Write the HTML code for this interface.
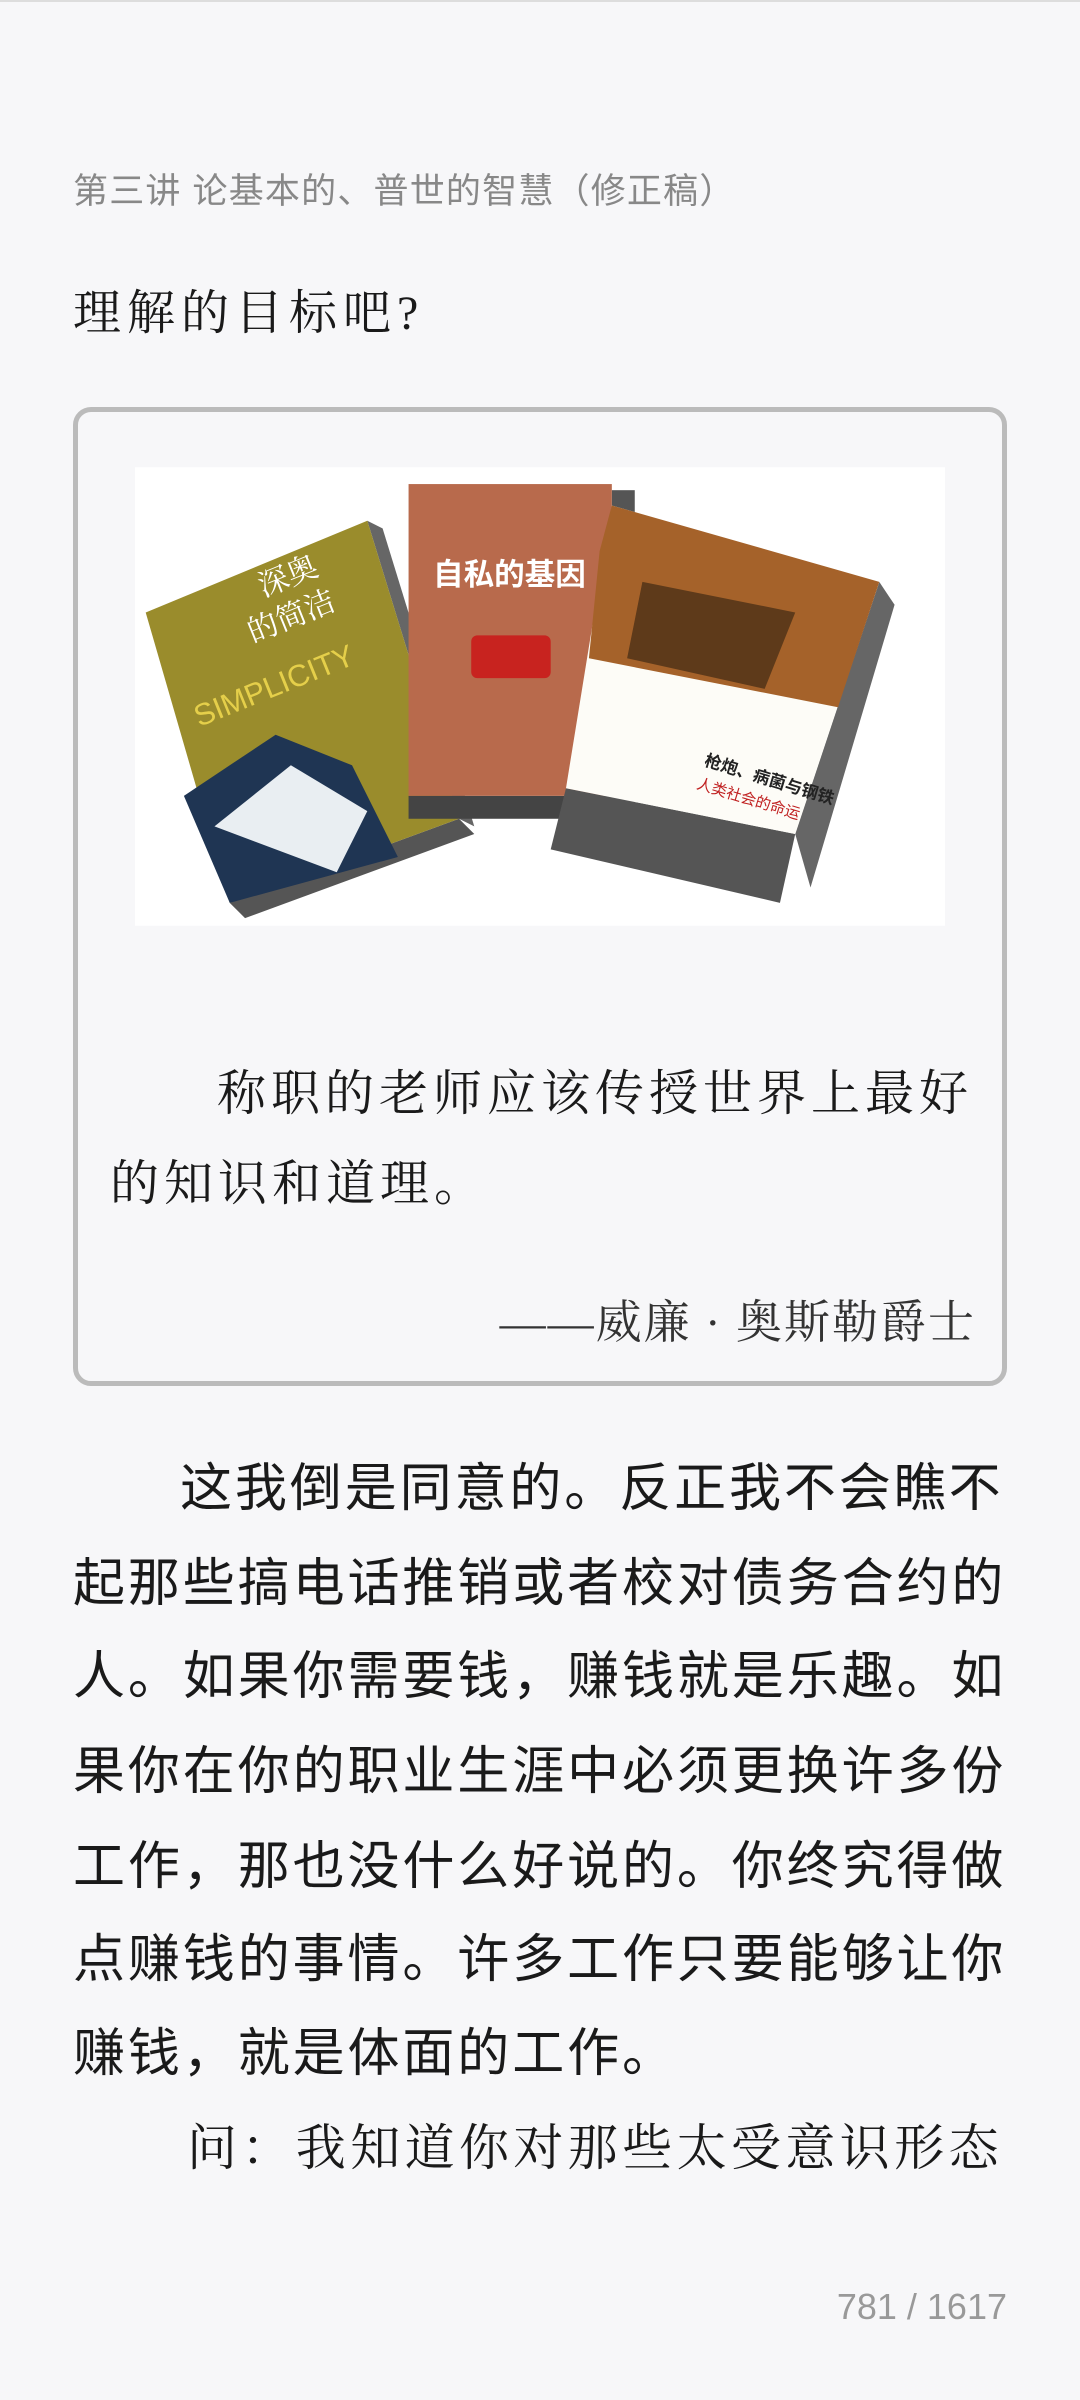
<!DOCTYPE html>
<html><head><meta charset="utf-8">
<style>
html,body{margin:0;padding:0;}
body{width:1080px;height:2400px;background:#f7f7f9;position:relative;overflow:hidden;font-family:"Liberation Sans","Noto Sans CJK SC",sans-serif;}
.abs{position:absolute;white-space:nowrap;}
.serif{font-family:"Liberation Serif","Noto Serif CJK SC",serif;}
.body-line{position:absolute;left:73px;font-size:52px;letter-spacing:2.9px;color:#1a1a1a;line-height:60px;white-space:nowrap;}
</style></head>
<body>
<div class="abs" style="left:0;top:0;width:1080px;height:2px;background:#ddd"></div>
<div class="abs" style="left:73px;top:163px;font-size:35px;letter-spacing:1.2px;color:#888">第三讲 论基本的、普世的智慧（修正稿）</div>
<div class="abs serif" style="left:73px;top:274px;font-size:48px;color:#1a1a1a;letter-spacing:6px">理解的目标吧?</div>

<div class="abs" style="left:73px;top:407px;width:924px;height:969px;border:5px solid #bbb;border-radius:18px;background:#f7f7f9"></div>

<svg style="position:absolute;left:135px;top:467px" width="810" height="459" viewBox="88 305 530 300">
<rect x="88" y="305" width="530" height="300" fill="#fff"/>
<polygon points="150,590 300,535 310,545 160,600" fill="#555"/>
<polygon points="240,340 300,535 310,540 250,345" fill="#666"/>
<polygon points="95,400 240,340 300,535 150,590" fill="#9a8c2c"/>
<polygon points="120,520 180,480 230,500 260,560 150,590" fill="#1f3553"/>
<polygon points="140,540 190,500 240,530 220,570" fill="#e9eef2"/>
<text x="172" y="390" font-size="20" fill="#fff" font-family="Noto Serif CJK SC,serif" transform="rotate(-22 172 390)">深奥</text>
<text x="165" y="420" font-size="20" fill="#fff" font-family="Noto Serif CJK SC,serif" transform="rotate(-22 165 420)">的简洁</text>
<text x="130" y="475" font-size="20" fill="#e5cf4a" font-family="Liberation Sans,sans-serif" transform="rotate(-22 130 475)">SIMPLICITY</text>
<rect x="267" y="520" width="140" height="15" fill="#444"/>
<rect x="400" y="320" width="15" height="210" fill="#555"/>
<rect x="267" y="316" width="133" height="204" fill="#b86a4c"/>
<text x="333" y="382" text-anchor="middle" font-size="20" font-weight="bold" fill="#fff" font-family="Noto Sans CJK SC,sans-serif">自私的基因</text>
<rect x="308" y="415" width="52" height="28" rx="4" fill="#c8231f"/>
<polygon points="370,515 520,545 510,590 360,555" fill="#555"/>
<polygon points="575,380 585,395 530,580 520,545" fill="#666"/>
<polygon points="400,330 575,380 520,545 370,515" fill="#fdfcf7"/>
<polygon points="400,330 575,380 548,462 385,430 392,360" fill="#a5622a"/>
<polygon points="420,380 520,400 500,450 410,430" fill="#5e3a1a"/>
<text x="460" y="500" font-size="11" font-weight="bold" fill="#222" transform="rotate(17 460 500)" font-family="Noto Sans CJK SC,sans-serif">枪炮、病菌与钢铁</text>
<text x="455" y="515" font-size="10" fill="#c02020" transform="rotate(17 455 515)" font-family="Noto Sans CJK SC,sans-serif">人类社会的命运</text>
</svg>

<div class="abs serif" style="left:217px;top:1055px;font-size:49px;letter-spacing:5px;color:#1a1a1a">称职的老师应该传授世界上最好</div>
<div class="abs serif" style="left:110px;top:1145px;font-size:49px;letter-spacing:5px;color:#1a1a1a">的知识和道理。</div>
<div class="abs serif" style="right:104px;top:1286px;font-size:46px;letter-spacing:2px;color:#333">——威廉 · 奥斯勒爵士</div>

<div class="body-line" style="top:1459px;left:180px">这我倒是同意的。反正我不会瞧不</div>
<div class="body-line" style="top:1554px">起那些搞电话推销或者校对债务合约的</div>
<div class="body-line" style="top:1647px">人。如果你需要钱，赚钱就是乐趣。如</div>
<div class="body-line" style="top:1742px">果你在你的职业生涯中必须更换许多份</div>
<div class="body-line" style="top:1837px">工作，那也没什么好说的。你终究得做</div>
<div class="body-line" style="top:1930px">点赚钱的事情。许多工作只要能够让你</div>
<div class="body-line" style="top:2024px">赚钱，就是体面的工作。</div>
<div class="abs serif" style="left:187px;top:2108px;font-size:50px;letter-spacing:4.4px;color:#1a1a1a">问：我知道你对那些太受意识形态</div>

<div class="abs" style="right:73px;top:2286px;font-size:36px;color:#999">781 / 1617</div>
</body></html>
